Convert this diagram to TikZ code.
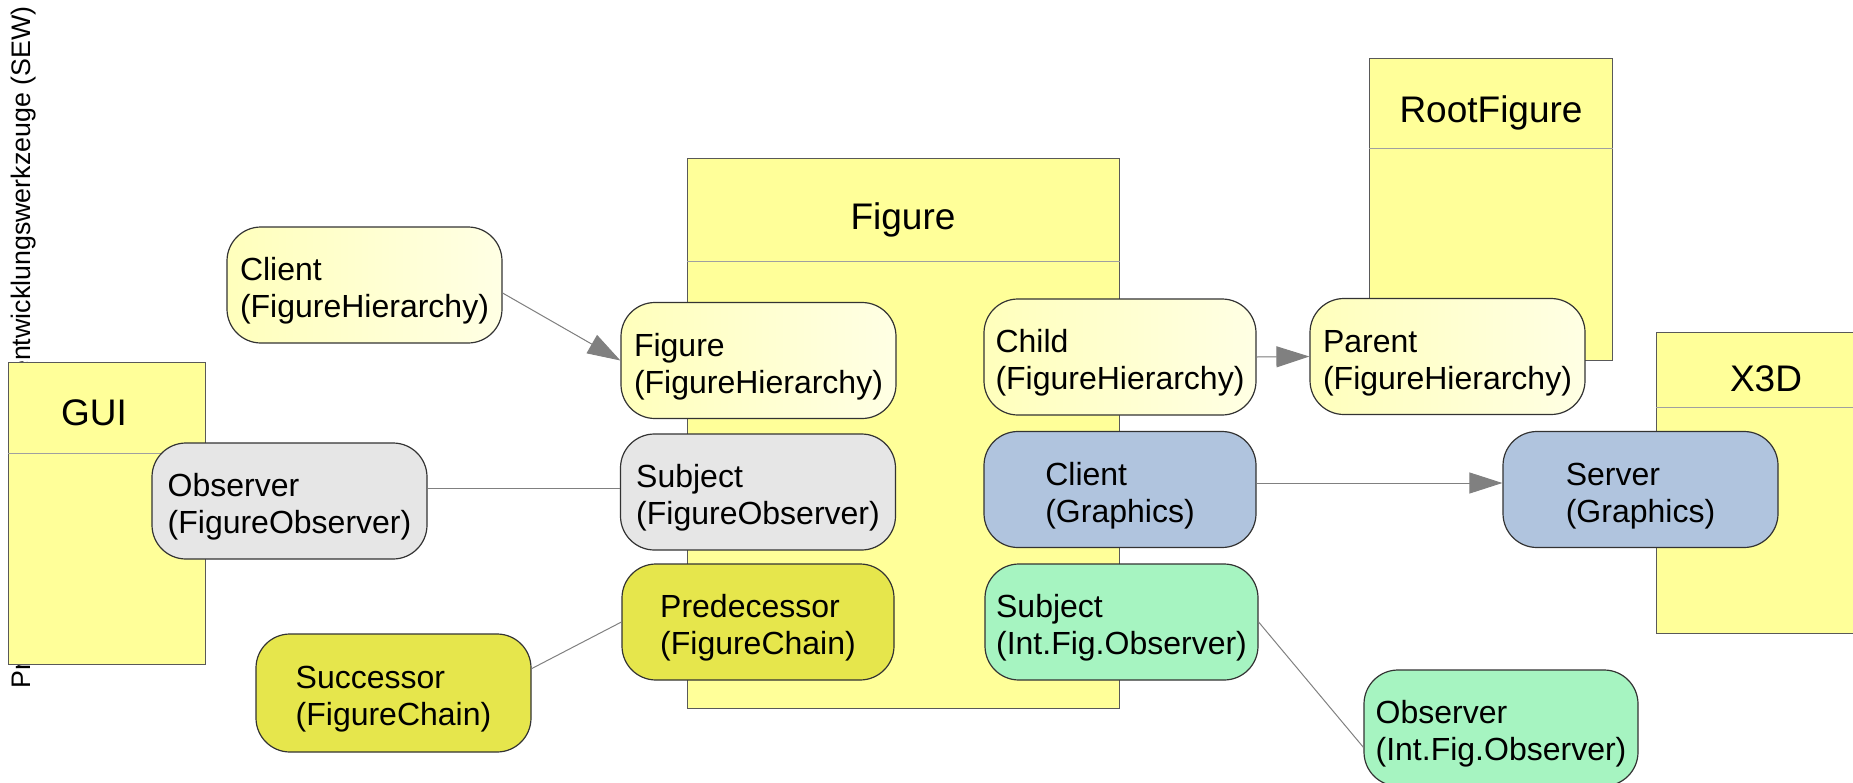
\documentclass[tikz,border=0pt]{standalone}
\usepackage{fontspec}
\setmainfont{Liberation Sans}
\usetikzlibrary{arrows.meta}
\definecolor{classfill}{HTML}{FFFF99}
\definecolor{lyA}{HTML}{FFFFBC}
\definecolor{lyB}{HTML}{FFFFE4}
\definecolor{grayfill}{HTML}{E6E6E6}
\definecolor{bluefill}{HTML}{B0C4DE}
\definecolor{dyfill}{HTML}{E6E64C}
\definecolor{greenfill}{HTML}{A6F4C1}
\definecolor{connc}{HTML}{808080}
\definecolor{divc}{HTML}{A0A0A0}
\newcommand{\rolestrut}{\rule{0pt}{17.5pt}}
\begin{document}
\begin{tikzpicture}[x=0.5pt,y=-0.5pt,
  classbox/.style={draw=black!65, line width=0.5pt, fill=classfill, rectangle, inner sep=0pt},
  classtitle/.style={anchor=base, font=\fontsize{18.5}{22}\selectfont, inner sep=0pt},
  divider/.style={draw=divc, line width=0.5pt},
  role/.style={draw=black!80, line width=0.6pt, rectangle, rounded corners=17pt, align=left,
    font=\fontsize{16}{18.5}\selectfont, minimum width=137.5pt, minimum height=58pt, inner sep=0pt},
  hier/.style={role, left color=lyA, right color=lyB},
  obsv/.style={role, fill=grayfill},
  graph/.style={role, fill=bluefill},
  chain/.style={role, fill=dyfill},
  ifo/.style={role, fill=greenfill},
  conn/.style={draw=connc, line width=0.5pt},
  arr/.style={conn, -{Triangle[length=16.5pt,width=10.5pt]}, fill=connc},
  sidetext/.style={rotate=90, anchor=base west, inner sep=0pt, font=\fontsize{13.4}{16}\selectfont}
]
\useasboundingbox (0,0) rectangle (1853,782);
\clip (0,0) rectangle (1853,782);

% side text
\node[sidetext] (side) at (30,689) {Projektpraktikum Softwareentwicklungswerkzeuge (SEW)};

% class boxes
\node[classbox, minimum width=98.5pt, minimum height=151pt] (gui) at (106.5,513) {};
\draw[divider] (gui.west |- 0,453) -- (gui.east |- 0,453);
\node[classtitle] (guit) at (94,425) {GUI};

\node[classbox, minimum width=216pt, minimum height=275pt] (fig) at (903,433) {};
\draw[divider] (fig.west |- 0,261) -- (fig.east |- 0,261);
\node[classtitle] (figt) at (903,229) {Figure};

\node[classbox, minimum width=121.5pt, minimum height=151pt] (root) at (1490.5,209) {};
\draw[divider] (root.west |- 0,148) -- (root.east |- 0,148);
\node[classtitle] (roott) at (1491,122) {RootFigure};

\node[classbox, minimum width=112pt, minimum height=150.5pt] (x3d) at (1768,482.5) {};
\draw[divider] (x3d.west |- 0,407) -- (x3d.east |- 0,407);
\node[classtitle] (x3dt) at (1766,391) {X3D};

% role nodes
\node[hier] (cfh) at (364.5,285) {\rolestrut Client\\(FigureHierarchy)};
\node[hier] (ffh) at (758.5,360.5) {\rolestrut Figure\\(FigureHierarchy)};
\node[hier, minimum width=136pt] (chfh) at (1120,357) {\rolestrut Child\\(FigureHierarchy)};
\node[hier] (pfh) at (1447.5,356.5) {\rolestrut Parent\\(FigureHierarchy)};

\node[obsv] (ofo) at (289.5,501) {\rolestrut Observer\\(FigureObserver)};
\node[obsv] (sfo) at (758,492) {\rolestrut Subject\\(FigureObserver)};

\node[graph, minimum width=136pt] (cg) at (1120,489.5) {\rolestrut Client\\(Graphics)};
\node[graph] (sg) at (1640.5,489.5) {\rolestrut Server\\(Graphics)};

\node[chain, minimum width=136pt] (pred) at (758,622) {\rolestrut Predecessor\\(FigureChain)};
\node[chain, minimum height=59pt] (succ) at (393.5,693) {\rolestrut Successor\\(FigureChain)};

\node[ifo, minimum width=136.5pt] (sifo) at (1121.5,622) {\rolestrut Subject\\(Int.Fig.Observer)};
\node[ifo, minimum width=137pt] (oifo) at (1501,728) {\rolestrut Observer\\(Int.Fig.Observer)};

% connectors
\coordinate (sfoin) at ([yshift=2pt]sfo.west);
\draw[arr] ([yshift=-4pt]cfh.east) -- (ffh.west);
\draw[arr] (chfh.east) -- (pfh.west);
\draw[arr] ([yshift=3.25pt]cg.east) -- ([yshift=3.25pt]sg.west);
\draw[conn] (ofo.east |- sfoin) -- (sfoin);
\draw[conn] (succ.10) -- (pred.west);
\draw[conn] (sifo.east) -- (oifo.188);
\end{tikzpicture}
\end{document}
